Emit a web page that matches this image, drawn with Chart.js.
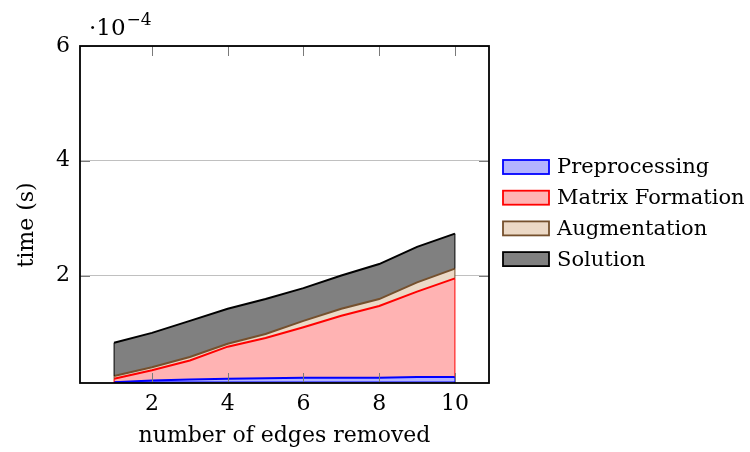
<!DOCTYPE html>
<html>
<head>
<meta charset="utf-8">
<script src="https://cdn.jsdelivr.net/npm/chart.js@4.4.1/dist/chart.umd.min.js"></script>
<style>
body { margin: 0; background: #fff; }
#wrap { width: 750px; height: 452px; }
</style>
</head>
<body>
<div id="wrap"><canvas id="myChart" width="750" height="452"></canvas></div>
<script>
// times are in units of 1e-4 s (axis shows the ·10^-4 multiplier)
const edgesRemoved = [1, 2, 3, 4, 5, 6, 7, 8, 9, 10];
const preprocessing = [0.14, 0.17, 0.19, 0.20, 0.21, 0.22, 0.22, 0.22, 0.23, 0.23];
const matrixFormation = [0.06, 0.18, 0.33, 0.56, 0.70, 0.88, 1.08, 1.25, 1.49, 1.72];
const augmentation = [0.05, 0.05, 0.06, 0.05, 0.07, 0.11, 0.12, 0.12, 0.16, 0.17];
const solution = [0.58, 0.60, 0.63, 0.61, 0.61, 0.57, 0.58, 0.61, 0.62, 0.61];
const seriesNames = ['Preprocessing', 'Matrix Formation', 'Augmentation', 'Solution'];
const xTicks = [2, 4, 6, 8, 10];
const yTicks = [2, 4, 6];

const FONT = 'DejaVu Serif';

function toPoints(values) {
    return edgesRemoved.map((x, i) => ({ x: x, y: values[i] }));
}

// pgfplots style extras: closed area edges, frame, inner ticks, legend, multiplier
const pgfExtras = {
    id: 'pgfExtras',
    afterDatasetsDraw(chart) {
        const ctx = chart.ctx;
        const area = chart.chartArea;
        const n = chart.data.datasets.length;
        ctx.save();
        for (let i = 0; i < n; i++) {
            const ds = chart.data.datasets[i];
            const pts = chart.getDatasetMeta(i).data;
            const below = i === 0 ? null : chart.getDatasetMeta(i - 1).data;
            ctx.strokeStyle = ds.borderColor;
            ctx.lineWidth = ds.borderWidth;
            [0, pts.length - 1].forEach(j => {
                const yBottom = below ? below[j].y : area.bottom;
                ctx.beginPath();
                ctx.moveTo(pts[j].x, yBottom);
                ctx.lineTo(pts[j].x, pts[j].y);
                ctx.stroke();
            });
            if (i === 0) {
                ctx.beginPath();
                ctx.moveTo(pts[0].x, area.bottom - 1);
                ctx.lineTo(pts[pts.length - 1].x, area.bottom - 1);
                ctx.stroke();
            }
        }
        ctx.restore();
    },
    afterDraw(chart) {
        const ctx = chart.ctx;
        const area = chart.chartArea;
        const xs = chart.scales.x;
        const ys = chart.scales.y;
        ctx.save();

        // inner tick marks
        ctx.strokeStyle = '#7a7a7a';
        ctx.lineWidth = 1;
        xTicks.forEach(v => {
            const px = Math.round(xs.getPixelForValue(v)) + 0.5;
            ctx.beginPath();
            ctx.moveTo(px, area.top); ctx.lineTo(px, area.top + 10);
            ctx.moveTo(px, area.bottom); ctx.lineTo(px, area.bottom - 10);
            ctx.stroke();
        });
        yTicks.forEach(v => {
            const py = Math.round(ys.getPixelForValue(v)) + 0.5;
            ctx.beginPath();
            ctx.moveTo(area.left, py); ctx.lineTo(area.left + 10, py);
            ctx.moveTo(area.right, py); ctx.lineTo(area.right - 10, py);
            ctx.stroke();
        });

        // frame
        ctx.strokeStyle = '#000';
        ctx.lineWidth = 1.8;
        ctx.strokeRect(area.left, area.top, area.right - area.left, area.bottom - area.top);

        // multiplier label
        ctx.fillStyle = '#000';
        ctx.textBaseline = 'alphabetic';
        ctx.textAlign = 'left';
        ctx.font = '23px "' + FONT + '"';
        ctx.fillText('\u00b710', area.left + 9, 35);
        const w = ctx.measureText('\u00b710').width;
        ctx.font = '17px "' + FONT + '"';
        ctx.fillText('\u22124', area.left + 9 + w + 1, 25);

        // legend
        const boxX = 503, boxW = 46, boxH = 14, textX = 557;
        chart.data.datasets.forEach((ds, i) => {
            const cy = 167 + i * 30.7;
            ctx.fillStyle = ds.backgroundColor;
            ctx.fillRect(boxX, cy - boxH / 2, boxW, boxH);
            ctx.strokeStyle = ds.borderColor;
            ctx.lineWidth = 1.8;
            ctx.strokeRect(boxX, cy - boxH / 2, boxW, boxH);
            ctx.fillStyle = '#000';
            ctx.font = '21px "' + FONT + '"';
            ctx.textBaseline = 'middle';
            ctx.fillText(ds.label, textX, cy + 1);
        });
        ctx.restore();
    }
};

const ctx = document.getElementById('myChart').getContext('2d');
const chart1 = new Chart(ctx, {
    type: 'line',
    data: {
        datasets: [{
            label: seriesNames[0],
            data: toPoints(preprocessing),
            backgroundColor: 'rgb(179, 179, 255)',
            borderColor: 'rgb(0, 0, 255)',
            fill: 'start'
        }, {
            label: seriesNames[1],
            data: toPoints(matrixFormation),
            backgroundColor: 'rgb(255, 179, 179)',
            borderColor: 'rgb(255, 0, 0)',
            fill: '-1'
        }, {
            label: seriesNames[2],
            data: toPoints(augmentation),
            backgroundColor: 'rgb(236, 217, 198)',
            borderColor: 'rgb(117, 80, 45)',
            fill: '-1'
        }, {
            label: seriesNames[3],
            data: toPoints(solution),
            backgroundColor: 'rgb(128, 128, 128)',
            borderColor: 'rgb(0, 0, 0)',
            fill: '-1'
        }]
    },
    options: {
        responsive: false,
        animation: false,
        devicePixelRatio: 1,
        layout: {
            padding: { left: 0, right: 261, top: 46, bottom: 0 }
        },
        elements: {
            line: { borderWidth: 2, tension: 0 },
            point: { radius: 0 }
        },
        plugins: {
            legend: { display: false },
            tooltip: { enabled: false }
        },
        scales: {
            x: {
                type: 'linear',
                min: 0.1,
                max: 10.9,
                afterBuildTicks: scale => { scale.ticks = xTicks.map(v => ({ value: v })); },
                afterFit: scale => { scale.height = 69; },
                grid: { display: false },
                border: { display: false },
                ticks: {
                    color: '#000',
                    font: { family: FONT, size: 22 },
                    padding: 0,
                    maxRotation: 0,
                    autoSkip: false
                },
                title: {
                    display: true,
                    text: 'number of edges removed',
                    color: '#000',
                    font: { family: FONT, size: 22 },
                    padding: { top: 0, bottom: 3 }
                }
            },
            y: {
                stacked: true,
                min: 0.127,
                max: 6,
                afterBuildTicks: scale => { scale.ticks = yTicks.map(v => ({ value: v })); },
                afterFit: scale => { scale.width = 80; },
                grid: { color: '#c0c0c0', lineWidth: 1, drawTicks: false },
                border: { display: false },
                ticks: {
                    color: '#000',
                    font: { family: FONT, size: 22 },
                    padding: 10
                },
                title: {
                    display: true,
                    text: 'time (s)   ',
                    color: '#000',
                    font: { family: FONT, size: 22 },
                    padding: { top: 14, bottom: 0 }
                }
            }
        }
    },
    plugins: [pgfExtras]
});
</script>
</body>
</html>
